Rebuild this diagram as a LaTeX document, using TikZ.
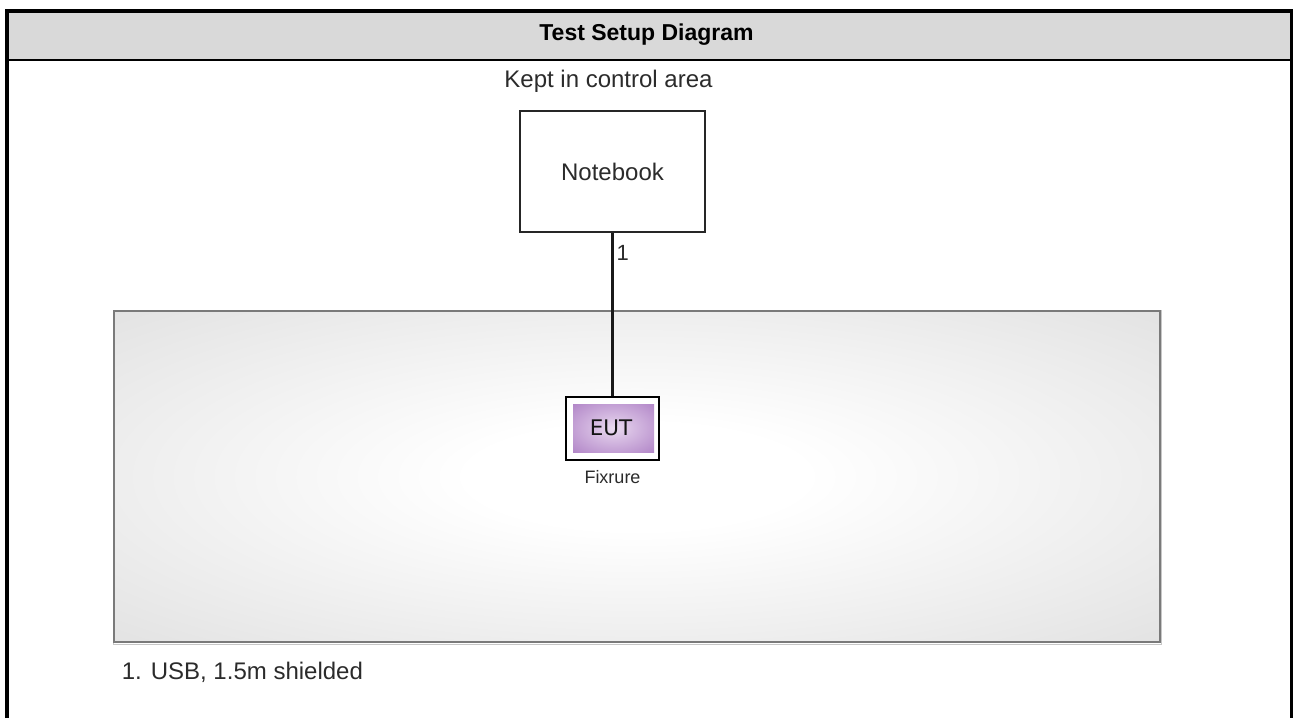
\documentclass[tikz,border=0pt]{standalone}
\usepackage{fontspec}
\setmainfont{Liberation Sans}
\newfontfamily\labelfont{DejaVu Sans}
\usetikzlibrary{positioning}

\definecolor{headgray}{HTML}{D9D9D9}
\definecolor{roomedge}{HTML}{7A7A7A}
\definecolor{inktext}{HTML}{2B2B2B}

% soft room fill: white centre fading to grey at the walls
\pgfdeclareradialshading{roomshade}{\pgfpoint{0bp}{0bp}}{%
  color(0bp)=(white); color(8bp)=(white);
  color(50bp)=(rgb,255:red,212;green,212;blue,212);
  color(72bp)=(rgb,255:red,200;green,200;blue,200)}
% lavender EUT label fill
\pgfdeclareradialshading{eutshade}{\pgfpoint{0bp}{0bp}}{%
  color(0bp)=(rgb,255:red,234;green,220;blue,240);
  color(12bp)=(rgb,255:red,214;green,188;blue,226);
  color(50bp)=(rgb,255:red,156;green,102;blue,184);
  color(72bp)=(rgb,255:red,146;green,92;blue,176)}

\tikzset{
  frame/.style={line width=4pt, black},
  plain/.style={font=\fontsize{24}{28}\selectfont, text=inktext, inner sep=0pt},
  devbox/.style={draw=black!85, line width=1.8pt, fill=white,
                 minimum width=185pt, minimum height=121pt,
                 font=\fontsize{24}{28}\selectfont, text=inktext},
  cable/.style={draw=black!90, line width=2.2pt},
}

\begin{document}
\begin{tikzpicture}[x=1pt, y=-1pt]
  \useasboundingbox (0,0) rectangle (1293,718);

  % header band and frame
  \fill[headgray] (7,11) rectangle (1292.3,60);
  \draw[line width=2.3pt] (7,60) -- (1292.3,60);
  \draw[frame] (7,718) -- (7,11) -- (1292.3,11) -- (1292.3,718);
  \node[font=\bfseries\fontsize{23}{27}\selectfont, inner sep=0pt]
    (title) at (646.5,35) {Test Setup Diagram};

  % test room
  \draw[black!22, line width=1pt] (113,310) rectangle (1161.5,644);
  \shade[shading=roomshade, draw=roomedge, line width=2pt]
    (114,311) rectangle (1160,642);

  % notebook in the control area
  \node[plain] (keep) at (608.5,81) {Kept in control area};
  \node[devbox] (nb) at (612.5,171.5) {Notebook};

  % equipment under test on its fixture
  \node[draw=black, line width=2pt, fill=white,
        minimum width=93pt, minimum height=63pt, inner sep=0pt]
    (fix) at (612.5,428.5) {};
  \shade[shading=eutshade] (573,404) rectangle (654,452);
  \node[font=\labelfont\fontsize{21.5}{25}\selectfont, text=black!92, inner sep=0pt]
    (eut) at (611,428) {EUT};
  \node[font=\fontsize{18}{22}\selectfont, text=inktext, inner sep=0pt,
        below=9pt of fix] (fixlbl) {Fixrure};

  % USB cable
  \draw[cable] (nb.south) -- node[pos=0.12, right=3pt, plain,
      font=\fontsize{22}{26}\selectfont] (c1) {1} (fix.north);

  % cable legend
  \node[plain, anchor=west] (legend) at (121.7,672) {1. USB, 1.5m shielded};
\end{tikzpicture}
\end{document}
